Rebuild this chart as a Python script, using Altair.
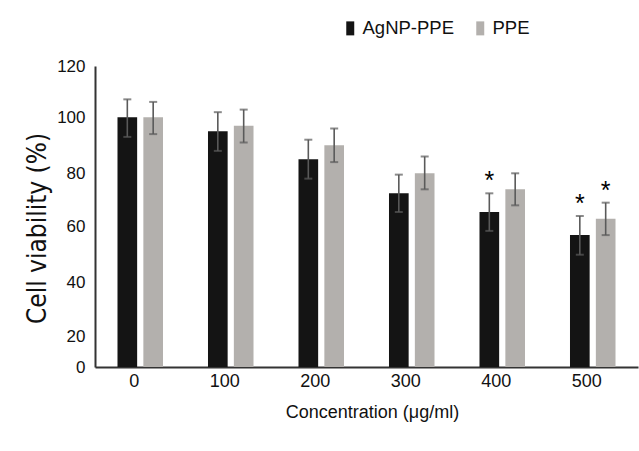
import altair as alt
import pandas as pd

# ---- data ----
concentrations = ["0", "100", "200", "300", "400", "500"]
series_names = ["AgNP-PPE", "PPE"]
agnp_ppe = [100, 95, 85, 72.5, 65.5, 57]
agnp_ppe_err = [7, 7, 7, 7, 7, 7]
ppe = [100, 97, 90, 80, 74, 63]
ppe_err = [6, 6, 6, 6, 6, 6]
agnp_sig = [False, False, False, False, True, True]
ppe_sig = [False, False, False, False, False, True]
y_ticks = [0, 20, 40, 60, 80, 100, 120]

rows = []
for i, c in enumerate(concentrations):
    rows.append(dict(conc=c, series=series_names[0], v=agnp_ppe[i],
                     lo=agnp_ppe[i] - agnp_ppe_err[i], hi=agnp_ppe[i] + agnp_ppe_err[i],
                     sig=agnp_sig[i]))
    rows.append(dict(conc=c, series=series_names[1], v=ppe[i],
                     lo=ppe[i] - ppe_err[i], hi=ppe[i] + ppe_err[i],
                     sig=ppe_sig[i]))
df = pd.DataFrame(rows)

# The reference axis is not evenly spaced; reproduce it with a piecewise scale.
Y_RANGE = [301, 270.7, 216.7, 160.7, 107.3, 51.3, 0]
yscale = alt.Scale(domain=y_ticks, range=Y_RANGE, nice=False, zero=False)

FONT = "Liberation Sans"
NARROW = "Liberation Sans Narrow, DejaVu Sans Condensed, Liberation Sans"

x_enc = alt.X(
    "conc:N", sort=concentrations,
    scale=alt.Scale(paddingInner=0.497, paddingOuter=0.2485),
    axis=alt.Axis(
        title="Concentration (μg/ml)", labelAngle=0, labelFontSize=18,
        labelColor="#111", labelOffset=-6, labelPadding=5, ticks=False,
        domainColor="#333", domainWidth=2, grid=False,
        titleFontSize=18, titleFontWeight="normal", titleColor="#111",
        titleX=277, titleY=45, titleAlign="center", titleBaseline="middle",
    ),
)
xoff_enc = alt.XOffset(
    "series:N", sort=series_names,
    scale=alt.Scale(paddingInner=0.24, paddingOuter=0),
)

base = alt.Chart(df)

bars = base.mark_bar().encode(
    x=x_enc,
    xOffset=xoff_enc,
    y=alt.Y(
        "v:Q", scale=yscale,
        axis=alt.Axis(
            title="Cell viability (%)", values=y_ticks, labelFontSize=17,
            labelColor="#111", labelPadding=10, ticks=False, grid=False,
            domainColor="#333", domainWidth=2,
            titleFont=NARROW,
            titleFontSize=26, titleFontWeight="normal", titleColor="#111",
            titleAngle=-90, titleX=-58, titleY=162, titleAlign="center",
            titleBaseline="middle",
        ),
    ),
    color=alt.Color(
        "series:N",
        scale=alt.Scale(domain=series_names, range=["#141414", "#b3b0ad"]),
        legend=alt.Legend(
            title=None, orient="none", direction="horizontal",
            legendX=246, legendY=-47, padding=0,
            symbolType="M-0.57,-1H0.57V1H-0.57Z", symbolSize=196,
            symbolStrokeWidth=0, labelFontSize=18.5, labelColor="#111",
            labelOffset=3, columnPadding=16,
        ),
    ),
)

err = base.mark_rule(color="#5a5a5a", strokeWidth=1.6).encode(
    x=alt.X("conc:N", sort=concentrations),
    xOffset=alt.XOffset("series:N", sort=series_names),
    y=alt.Y("lo:Q", scale=yscale),
    y2="hi:Q",
)
cap_hi = base.mark_tick(color="#5a5a5a", size=8, thickness=2).encode(
    x=alt.X("conc:N", sort=concentrations),
    xOffset=alt.XOffset("series:N", sort=series_names),
    y=alt.Y("hi:Q", scale=yscale),
)
cap_lo = base.mark_tick(color="#5a5a5a", size=8, thickness=2).encode(
    x=alt.X("conc:N", sort=concentrations),
    xOffset=alt.XOffset("series:N", sort=series_names),
    y=alt.Y("lo:Q", scale=yscale),
)
stars = base.transform_filter(alt.datum.sig).mark_text(
    text="*", fontSize=25, color="#000", baseline="alphabetic", dy=-4, font=FONT,
).encode(
    x=alt.X("conc:N", sort=concentrations),
    xOffset=alt.XOffset("series:N", sort=series_names),
    y=alt.Y("hi:Q", scale=yscale),
)

chart = alt.layer(bars, err, cap_hi, cap_lo, stars).properties(
    width=543, height=301,
    autosize=alt.AutoSizeParams(type="none"),
    padding={"left": 95, "top": 66, "right": 1, "bottom": 84},
).configure(font=FONT).configure_view(stroke=None)

chart.save("out.html", embed_options={"renderer": "svg", "actions": False})
